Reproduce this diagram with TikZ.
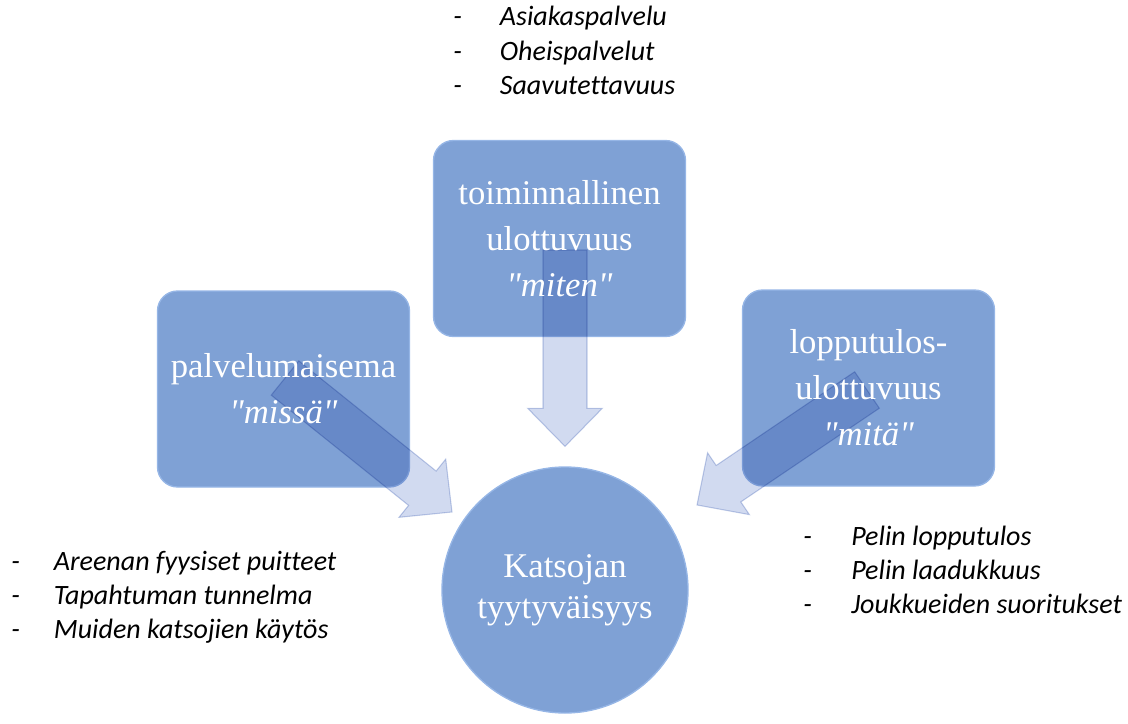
\documentclass[tikz,border=0pt]{standalone}
\usepackage{fontspec}
\setmainfont{Liberation Serif}[Ligatures=TeXOff]
\newfontfamily\listfont{Carlito}[Ligatures=NoCommon]
\usetikzlibrary{calc}
\definecolor{boxblue}{RGB}{127,161,213}
\definecolor{boxedge}{RGB}{150,182,230}
\definecolor{arrowblue}{RGB}{198,209,236}
\definecolor{arrowedge}{RGB}{182,196,228}
% block arrow from tail to tip
\def\blockarrow(#1)(#2){%
	\coordinate (hb) at ($(#2)!28.5pt!(#1)$);
	\draw[arrowstyle] ($(#1)!16.5pt!90:(#2)$) -- ($(hb)!16.5pt!90:(#2)$) -- ($(hb)!28pt!90:(#2)$) -- (#2)
		-- ($(hb)!28pt!-90:(#2)$) -- ($(hb)!16.5pt!-90:(#2)$) -- ($(#1)!16.5pt!-90:(#2)$) -- cycle;}
\tikzset{
	dimbox/.style={rectangle, rounded corners=15pt, fill=boxblue, draw=boxedge, line width=1pt,
		minimum width=189pt, minimum height=147pt, inner sep=0pt},
	goalnode/.style={circle, fill=boxblue, draw=boxedge, line width=1pt, minimum size=184.5pt,
		inner sep=0pt, text=white, align=center, font=\fontsize{26}{31}\selectfont},
	dimtext/.style={inner sep=0pt, text=white, align=center, font=\fontsize{26}{34.5}\selectfont},
	arrowstyle/.style={fill=arrowblue, draw=arrowedge, line width=0.8pt, opacity=0.8},
	bullets/.style={inner sep=0pt, anchor=base west, font=\listfont\itshape\fontsize{21}{25.8}\selectfont}
}
\begin{document}
\begin{tikzpicture}[x=0.75pt, y=-0.75pt]
	%%%%% START %%%%%
	\useasboundingbox (0,0) rectangle (1128,724);
	
	% the three dimensions and the goal
	\node[dimbox] (place) at (283.5,389) {};
	\node[dimbox] (func) at (559.5,238.5) {};
	\node[dimbox] (result) at (868.5,388) {};
	\node[goalnode] (goal) at (565,590) {Katsojan\\tyytyväisyys};
	
	% arrows
	\coordinate (placetail) at (285,378);
	\coordinate (placetip) at (452,512);
	\coordinate (functail) at (565,250);
	\coordinate (functip) at ($(goal.north)+(0,-20)$);
	\coordinate (resulttail) at (867,390);
	\coordinate (resulttip) at (697,505);
	\begin{scope}[blend mode=multiply]
		\blockarrow(placetail)(placetip)
		\blockarrow(functail)(functip)
		\blockarrow(resulttail)(resulttip)
	\end{scope}
	
	% box texts above the arrows
	\node[dimtext] (placetext) at (place) {palvelumaisema\\\textit{"missä"}};
	\node[dimtext] (functext) at (func) {toiminnallinen\\ulottuvuus\\\textit{"miten"}};
	\node[dimtext] (resulttext) at (result) {lopputulos-\\ulottuvuus\\\textit{"mitä"}};
	
	% lists
	\node[bullets] (funcitems) at (453,26) {\begin{tabular}[t]{@{}p{35pt}@{}l@{}}
			-&Asiakaspalvelu\\-&Oheispalvelut\\-&Saavutettavuus\end{tabular}};
	\node[bullets] (placeitems) at (11,570) {\begin{tabular}[t]{@{}p{32pt}@{}l@{}}
			-&Areenan fyysiset puitteet\\-&Tapahtuman tunnelma\\-&Muiden katsojien käytös\end{tabular}};
	\node[bullets] (resultitems) at (803,545) {\begin{tabular}[t]{@{}p{36pt}@{}l@{}}
			-&Pelin lopputulos\\-&Pelin laadukkuus\\-&Joukkueiden suoritukset\end{tabular}};
	%%%%% END %%%%%
\end{tikzpicture}
\end{document}
